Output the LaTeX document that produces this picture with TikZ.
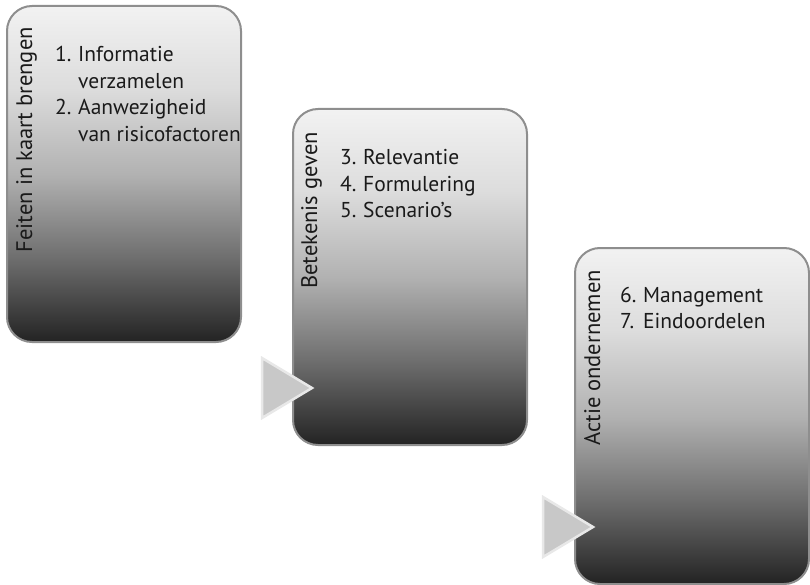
\documentclass[tikz,border=0pt]{standalone}
\usepackage{fontspec}
\setmainfont{PT Sans}
\usetikzlibrary{calc}
\definecolor{gA}{HTML}{232323}
\definecolor{gB}{HTML}{6E6E6E}
\definecolor{gC}{HTML}{B2B2B2}
\definecolor{gD}{HTML}{DCDCDC}
\definecolor{gE}{HTML}{F2F2F2}
\definecolor{boxborder}{HTML}{8E8E8E}
\definecolor{trifill}{HTML}{C8C8C8}
\definecolor{triborder}{HTML}{E8E8E8}
\definecolor{txt}{HTML}{1A1A1A}
\pgfdeclareverticalshading{boxgrad}{100bp}{color(0bp)=(gA); color(25bp)=(gA); color(37.5bp)=(gB); color(50bp)=(gC); color(62.5bp)=(gD); color(75bp)=(gE); color(100bp)=(gE)}
\tikzset{
  stagebox/.style={draw=boxborder, line width=2pt, rounded corners=25pt, shading=boxgrad,
    minimum width=234pt, minimum height=336pt, anchor=north west, inner sep=0pt, outer sep=0pt},
  steplabel/.style={rotate=90, anchor=base east, inner sep=0pt, text=txt, font=\fontsize{22.5}{26}\selectfont},
  steplist/.style={anchor=base west, inner sep=0pt, text=txt, font=\fontsize{21.5}{26.5}\selectfont},
  arrowtri/.style={fill=trifill, draw=triborder, line width=2.5pt, line join=miter}
}
\newcommand{\itm}[2]{\makebox[23pt][l]{#1}#2}
\begin{document}
\begin{tikzpicture}[x=1pt,y=-1pt]
\useasboundingbox (0,0) rectangle (810,585);
% boxes
\node[stagebox] (b1) at (7,6) {};
\node[stagebox] (b2) at (293,109) {};
\node[stagebox] (b3) at (575,248) {};
% rotated titles
\node[steplabel] (t1) at ($(b1.north west)+(25,21)$) {Feiten in kaart brengen};
\node[steplabel] (t2) at ($(b2.north west)+(24,23)$) {Betekenis geven};
\node[steplabel] (t3) at ($(b3.north west)+(25,22)$) {Actie ondernemen};
% lists
\node[steplist] (l1) at ($(b1.north west)+(48,56)$) {\begin{tabular}[t]{@{}l@{}}
\itm{1.}{Informatie}\\ \itm{}{verzamelen}\\ \itm{2.}{Aanwezigheid}\\ \itm{}{van risicofactoren}\end{tabular}};
\node[steplist] (l2) at ($(b2.north west)+(47,56)$) {\begin{tabular}[t]{@{}l@{}}
\itm{3.}{Relevantie}\\ \itm{4.}{Formulering}\\ \itm{5.}{Scenario’s}\end{tabular}};
\node[steplist] (l3) at ($(b3.north west)+(45,54)$) {\begin{tabular}[t]{@{}l@{}}
\itm{6.}{Management}\\ \itm{7.}{Eindoordelen}\end{tabular}};
% triangles
\draw[arrowtri] (262,358) -- (312,388) -- (262,418) -- cycle;
\draw[arrowtri] (543,497) -- (593,527) -- (543,557) -- cycle;
\end{tikzpicture}
\end{document}
